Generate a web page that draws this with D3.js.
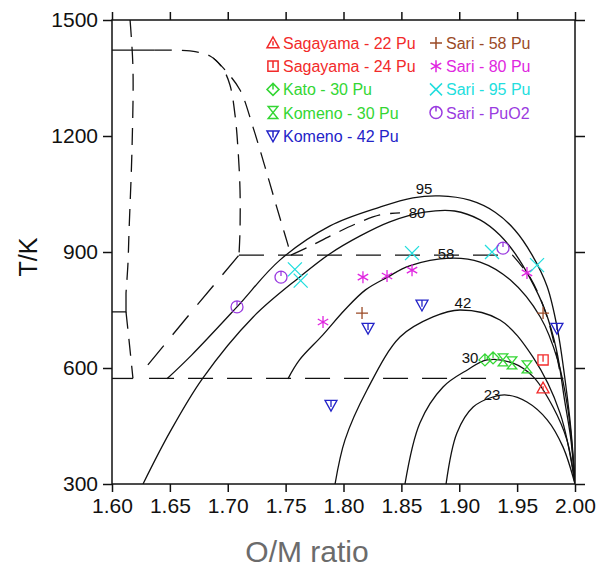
<!DOCTYPE html>
<html>
<head>
<meta charset="utf-8">
<script src="https://cdn.jsdelivr.net/npm/d3@7"></script>
<style>
body { margin: 0; background: #fff; }
text { font-family: "Liberation Sans", Arial, sans-serif; }
</style>
</head>
<body>
<script>
// ticks
const xTicks = [1.60, 1.65, 1.70, 1.75, 1.80, 1.85, 1.90, 1.95, 2.00];
const yTicks = [300, 600, 900, 1200, 1500];

// calculated gaps (solid), [O/M, T]
const curve95 = [[1.6475, 572], [1.669, 634], [1.708, 758], [1.745, 879], [1.788, 967], [1.8315, 1016], [1.860, 1040], [1.883, 1045], [1.909, 1034], [1.931, 1003], [1.948, 957], [1.963, 892], [1.976, 810], [1.985, 698], [1.992, 556], [1.9965, 440], [2.0, 300]];
const curve80 = [[1.6268, 300], [1.650, 434], [1.678, 572], [1.722, 732], [1.762, 835], [1.788, 895], [1.814, 941], [1.840, 978], [1.870, 1003], [1.896, 1006], [1.918, 983], [1.935, 944], [1.948, 897], [1.961, 833], [1.974, 750], [1.984, 647], [1.991, 517], [1.9965, 414], [2.0, 300]];
const curve58 = [[1.752, 572], [1.762, 621], [1.782, 685], [1.801, 750], [1.819, 802], [1.838, 835], [1.857, 864], [1.892, 884], [1.918, 874], [1.944, 828], [1.970, 732], [1.985, 621], [1.994, 491], [2.0, 300]];
const curve42 = [[1.7927, 300], [1.8013, 414], [1.8203, 543], [1.8488, 680], [1.8773, 732], [1.9006, 750], [1.9352, 724], [1.9637, 628], [1.987, 484], [2.0, 300]];
const curve30 = [[1.8531, 300], [1.866, 458], [1.886, 551], [1.907, 595], [1.924, 621], [1.946, 613], [1.964, 577], [1.981, 499], [1.993, 414], [2.0, 300]];
const curve23 = [[1.8886, 300], [1.898, 432], [1.912, 499], [1.929, 525], [1.941, 530], [1.9585, 512], [1.976, 466], [1.9896, 396], [2.0, 300]];

// Pu-O phase boundaries (dashed)
const leftUpper = [[1.6156, 1500], [1.6181, 1376], [1.6173, 1169], [1.6147, 952], [1.6138, 871], [1.6121, 794]];
const leftLower = [[1.6121, 745], [1.6147, 672], [1.6181, 573]];
const innerDome = [[1.637, 1422], [1.6674, 1420], [1.6847, 1407], [1.695, 1378], [1.7019, 1332], [1.7063, 1254], [1.7089, 1164], [1.7106, 1060], [1.7106, 957], [1.7097, 892]];
const outerDome = [[1.6873, 1402], [1.6976, 1371], [1.7106, 1319], [1.7218, 1223], [1.7322, 1120], [1.7425, 1014], [1.7495, 944], [1.7546, 892]];
const gapDashed = [[1.7546, 892], [1.7711, 915], [1.7883, 941], [1.81, 972], [1.8315, 996], [1.8488, 1001]];
const rightDashed = [[1.946, 892], [1.962, 830], [1.975, 740], [1.983, 650], [1.988, 573]];
const diagDashed = [[1.631, 608], [1.67, 750], [1.7097, 892]];
const line892 = [[1.7097, 892], [1.946, 892]];
const line573 = [[1.632, 573], [1.955, 573]];
const solid573Right = [[1.955, 573], [1.99, 573]];
const solid573Left = [[1.60, 573], [1.6181, 573]];
const solid745 = [[1.60, 745], [1.6121, 745], [1.6121, 794]];
const solid1422 = [[1.60, 1422], [1.637, 1422]];

const curveLabels = ["95", "80", "58", "42", "30", "23"];
const curveLabelPos = [[1.8696, 1063], [1.8635, 1003], [1.8886, 897], [1.9032, 768], [1.9093, 628], [1.9283, 530]];

// measurements
const seriesNames = ["Sagayama - 22 Pu", "Sagayama - 24 Pu", "Kato - 30 Pu", "Komeno - 30 Pu", "Komeno - 42 Pu",
  "Sari - 58 Pu", "Sari - 80 Pu", "Sari - 95 Pu", "Sari - PuO2"];
const seriesColors = ["#f22a2a", "#f22a2a", "#33d633", "#33d633", "#2323c8", "#9a4a26", "#e026e0", "#22dede", "#9a3be0"];
const seriesSymbols = ["tri", "square", "diamond", "hourglass", "tridown", "plus", "star", "cross", "circle"];
const sagayama22 = [[1.9724, 548]];
const sagayama24 = [[1.9724, 621]];
const kato30 = [[1.9222, 621], [1.9292, 626]];
const komeno30 = [[1.9378, 621], [1.9456, 613], [1.9585, 603]];
const komeno42 = [[1.7892, 504], [1.8212, 703], [1.8678, 763], [1.9844, 703]];
const sari58 = [[1.816, 742], [1.9724, 742]];
const sari80 = [[1.7823, 719], [1.8168, 835], [1.8376, 838], [1.8592, 853], [1.9585, 846]];
const sari95 = [[1.758, 855], [1.763, 826], [1.8592, 897], [1.9283, 900], [1.9672, 866]];
const sariPuO2 = [[1.708, 758], [1.746, 835], [1.9378, 910]];
const seriesData = [sagayama22, sagayama24, kato30, komeno30, komeno42, sari58, sari80, sari95, sariPuO2];

const W = 602, H = 568;
const svg = d3.select("body").append("svg").attr("width", W).attr("height", H);

const x = d3.scaleLinear().domain([1.60, 2.00]).range([112, 575]);
const y = d3.scaleLinear().domain([300, 1500]).range([484, 20]);

const plot = svg.append("g");
plot.append("clipPath").attr("id", "clip").append("rect")
  .attr("x", 112).attr("y", 20).attr("width", 463).attr("height", 464);

const smooth = d3.line().x(d => x(d[0])).y(d => y(d[1])).curve(d3.curveCatmullRom.alpha(0.5));
const straight = d3.line().x(d => x(d[0])).y(d => y(d[1]));

const lines = plot.append("g").attr("clip-path", "url(#clip)")
  .attr("fill", "none").attr("stroke", "#111");

[curve95, curve80, curve58, curve42, curve30, curve23].forEach(c => {
  lines.append("path").attr("d", smooth(c)).attr("stroke-width", 1.3);
});

[leftUpper, leftLower, innerDome, outerDome, gapDashed, rightDashed].forEach(c => {
  lines.append("path").attr("d", smooth(c)).attr("stroke-width", 1.3).attr("stroke-dasharray", "17,10");
});
[diagDashed, line892, line573].forEach(c => {
  lines.append("path").attr("d", straight(c)).attr("stroke-width", 1.3).attr("stroke-dasharray", "25,14");
});
[solid573Right, solid573Left, solid745, solid1422].forEach(c => {
  lines.append("path").attr("d", straight(c)).attr("stroke-width", 1.3);
});

// curve labels
plot.selectAll(".clab").data(curveLabels).join("text")
  .attr("class", "clab")
  .attr("x", (d, i) => x(curveLabelPos[i][0]))
  .attr("y", (d, i) => y(curveLabelPos[i][1]))
  .attr("text-anchor", "middle").attr("dy", "0.36em")
  .attr("font-size", 15).attr("fill", "#111")
  .text(d => d);

function symbolPath(type, s) {
  switch (type) {
    case "tri": return `M0,${-s}L${s},${s * 0.8}L${-s},${s * 0.8}ZM0,${-s * 0.3}V${s * 0.4}`;
    case "square": return `M${-s * .85},${-s * .85}H${s * .85}V${s * .85}H${-s * .85}ZM0,${-s * .85}V${s * .3}`;
    case "diamond": return `M0,${-s}L${s},0L0,${s}L${-s},0ZM0,${-s}V0`;
    case "hourglass": return `M${-s * .8},${-s}H${s * .8}L${-s * .8},${s}H${s * .8}Z`;
    case "tridown": return `M${-s},${-s * .8}H${s}L0,${s}ZM0,${-s * .8}V${s * .3}`;
    case "plus": return `M${-s},0H${s}M0,${-s}V${s}`;
    case "star": return `M0,${-s}V${s}M${-s * .87},${-s * .5}L${s * .87},${s * .5}M${-s * .87},${s * .5}L${s * .87},${-s * .5}`;
    case "cross": return `M${-s},${-s}L${s},${s}M${-s},${s}L${s},${-s}`;
    case "circle": return `M${s},0A${s},${s} 0 1,1 ${-s},0A${s},${s} 0 1,1 ${s},0M0,${-s}V${-s * .2}`;
  }
}

// markers
seriesData.forEach((pts, k) => {
  plot.append("g").selectAll("path").data(pts).join("path")
    .attr("transform", d => `translate(${x(d[0])},${y(d[1])})`)
    .attr("d", symbolPath(seriesSymbols[k], seriesSymbols[k] === "cross" ? 7 : 6))
    .attr("fill", "none").attr("stroke", seriesColors[k]).attr("stroke-width", 1.3);
});

// legend
const legend = svg.append("g");
seriesNames.forEach((name, k) => {
  const col = k < 5 ? 0 : 1;
  const row = k < 5 ? k : k - 5;
  const lx = col === 0 ? 273 : 436;
  const ly = 43 + row * 23.2;
  legend.append("path")
    .attr("transform", `translate(${lx},${ly})`)
    .attr("d", symbolPath(seriesSymbols[k], 6))
    .attr("fill", "none").attr("stroke", seriesColors[k]).attr("stroke-width", 1.5);
  legend.append("text")
    .attr("x", lx + 10).attr("y", ly + 6)
    .attr("font-size", 16).attr("fill", seriesColors[k])
    .text(name);
});

// axes
const axB = svg.append("g").attr("transform", "translate(0,484)")
  .call(d3.axisBottom(x).tickValues(xTicks).tickSize(8).tickSizeOuter(0).tickFormat(d3.format(".2f")));
const axT = svg.append("g").attr("transform", "translate(0,20)")
  .call(d3.axisTop(x).tickValues(xTicks).tickSize(8).tickSizeOuter(0).tickFormat(""));
const axL = svg.append("g").attr("transform", "translate(112,0)")
  .call(d3.axisLeft(y).tickValues(yTicks).tickSize(9).tickSizeOuter(0).tickFormat(d3.format("d")));
const axR = svg.append("g").attr("transform", "translate(575,0)")
  .call(d3.axisRight(y).tickValues(yTicks).tickSize(10).tickSizeOuter(0).tickFormat(""));

[axB, axT, axL, axR].forEach(a => {
  a.select(".domain").remove();
  a.selectAll("line").attr("stroke", "#111").attr("stroke-width", 1.5);
  a.selectAll("text").attr("font-size", 21).attr("fill", "#111")
    .attr("font-family", "'Liberation Sans', Arial, sans-serif");
});
axB.selectAll("text").attr("dy", "0.72em").attr("y", 14);
axL.selectAll("text").attr("x", -14);

svg.append("rect").attr("x", 112).attr("y", 20).attr("width", 463).attr("height", 464)
  .attr("fill", "none").attr("stroke", "#111").attr("stroke-width", 1.5);

// axis titles
svg.append("text")
  .attr("transform", "translate(37,257) rotate(-90)")
  .attr("text-anchor", "middle").attr("font-size", 25).attr("fill", "#111")
  .text("T/K");
svg.append("text")
  .attr("x", 307).attr("y", 562)
  .attr("text-anchor", "middle").attr("font-size", 30).attr("fill", "#6b6b6b")
  .text("O/M ratio");
</script>
</body>
</html>
